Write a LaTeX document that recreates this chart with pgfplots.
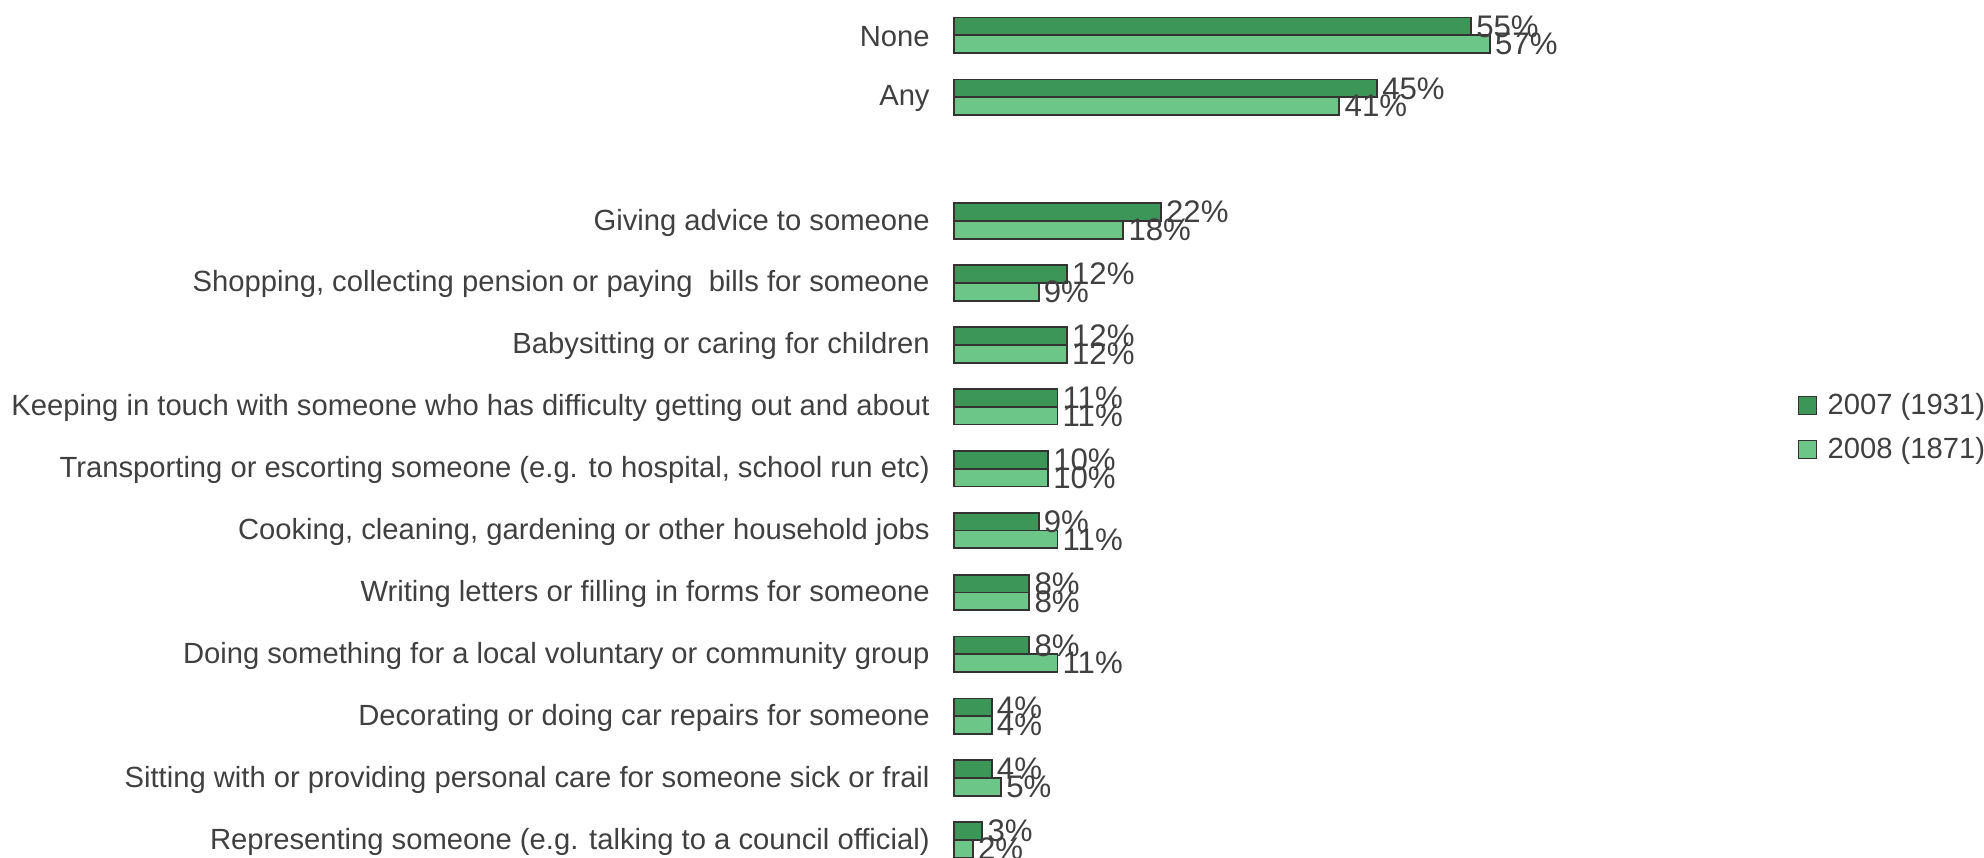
\documentclass[border=0pt]{standalone}
\usepackage{pgfplots}
\pgfplotsset{compat=1.18}
\usepackage{fontspec}
\setmainfont{Liberation Sans}
\definecolor{dgreen}{RGB}{60,150,88}
\definecolor{lgreen}{RGB}{108,198,135}
\definecolor{txt}{RGB}{64,64,64}
\definecolor{edge}{RGB}{51,51,51}
\pgfplotstableread{
y a b
0 55 57
1 45 41
3 22 18
4 12 9
5 12 12
6 11 11
7 10 10
8 9 11
9 8 8
10 8 11
11 4 4
12 4 5
13 3 2
}\datatable
\begin{document}
\begin{tikzpicture}[font=\fontsize{14.6pt}{17.5pt}\selectfont, text=txt]
\path[use as bounding box] (0,0) rectangle (992pt,428.5pt);
\begin{axis}[
  at={(477pt,426.3pt)}, anchor=north west,
  scale only axis, width=282pt, height=433.3pt,
  xbar, xmin=0, xmax=60, ymin=-0.5, ymax=13.5, y dir=reverse,
  bar width=8.9pt,
  axis line style={draw=none},
  major tick length=0pt,
  xtick=\empty,
  ytick={0,1,3,4,5,6,7,8,9,10,11,12,13},
  yticklabels={None, Any, Giving advice to someone,
    {Shopping, collecting pension or paying\ \ bills for someone},
    Babysitting or caring for children,
    Keeping in touch with someone who has difficulty getting out and about,
    {Transporting or escorting someone (e.g. to hospital, school run etc)},
    {Cooking, cleaning, gardening or other household jobs},
    Writing letters or filling in forms for someone,
    Doing something for a local voluntary or community group,
    Decorating or doing car repairs for someone,
    Sitting with or providing personal care for someone sick or frail,
    {Representing someone (e.g. talking to a council official)}},
  yticklabel style={inner sep=0pt, xshift=-12pt, yshift=-0.7pt, text=txt},
  clip=false,
  /pgf/number format/assume math mode=true,
  nodes near coords={\pgfmathprintnumber{\pgfplotspointmeta}\%},
  nodes near coords style={anchor=west, inner xsep=2.2pt, inner ysep=1pt, text=txt,
    font=\fontsize{15.6pt}{18pt}\selectfont},
  legend style={at={(1.836,0.512)}, anchor=east, draw=none, fill=none,
    inner sep=0pt, row sep=6pt, text=txt,
    font=\fontsize{14.6pt}{17.5pt}\selectfont},
  legend cell align=left,
]
\addplot[fill=dgreen, draw=edge, line width=0.9pt, bar shift=4.45pt,
  legend image code/.code={\draw[fill=dgreen, draw=edge, line width=0.7pt] (0pt,-4.5pt) rectangle (9pt,4.5pt); \path (12pt,0pt);}]
  table[x=a, y=y] {\datatable};
\addplot[fill=lgreen, draw=edge, line width=0.9pt, bar shift=-4.45pt,
  legend image code/.code={\draw[fill=lgreen, draw=edge, line width=0.7pt] (0pt,-4.5pt) rectangle (9pt,4.5pt); \path (12pt,0pt);}]
  table[x=b, y=y] {\datatable};
\legend{2007 (1931), 2008 (1871)}
\end{axis}
\end{tikzpicture}
\end{document}
